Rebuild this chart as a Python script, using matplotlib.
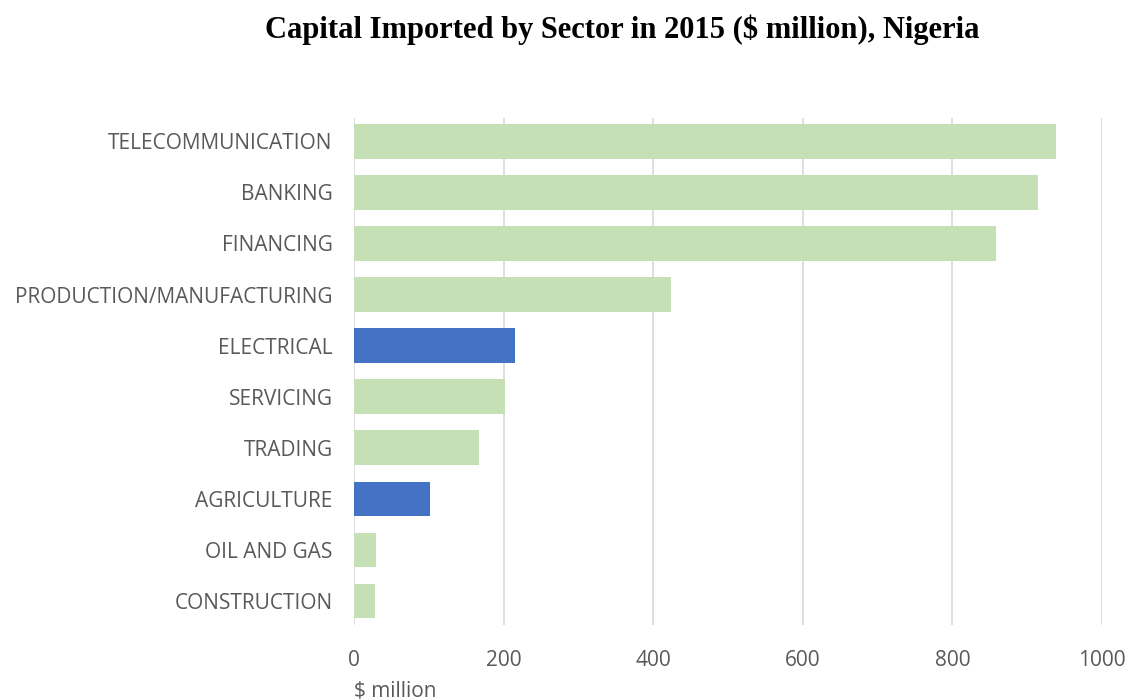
import matplotlib.pyplot as plt

# Capital imported by sector, 2015 ($ million)
sectors = ["TELECOMMUNICATION", "BANKING", "FINANCING", "PRODUCTION/MANUFACTURING",
           "ELECTRICAL", "SERVICING", "TRADING", "AGRICULTURE", "OIL AND GAS",
           "CONSTRUCTION"]
values = [938, 914, 858, 424, 215, 201, 167, 101, 29, 28]
highlighted = ["ELECTRICAL", "AGRICULTURE"]

GREEN = "#c5e0b4"
BLUE = "#4472c4"
GRAY = "#595959"


def main():
    fig = plt.figure(figsize=(11.28, 7), dpi=100)
    ax = fig.add_axes([0.314, 0.107, 0.663, 0.724])

    colors = [BLUE if s in highlighted else GREEN for s in sectors]
    ypos = list(range(len(sectors)))[::-1]
    ax.barh(ypos, values, height=0.68, color=colors, zorder=3)

    ax.set_xlim(0, 1000)
    ax.set_ylim(-0.47, 9.45)
    ax.set_xticks(range(0, 1001, 200))
    ax.set_yticks(ypos)
    ax.set_yticklabels(sectors)

    ax.grid(axis="x", color="#d9d9d9", linewidth=1.2, zorder=0)
    for side in ax.spines.values():
        side.set_visible(False)
    ax.tick_params(length=0, labelsize=15, labelcolor=GRAY)
    ax.tick_params(axis="x", pad=18)
    ax.tick_params(axis="y", pad=15.5)
    for lab in ax.get_xticklabels() + ax.get_yticklabels():
        lab.set_fontfamily("Open Sans")

    ax.set_xlabel("$ million", fontsize=15, color=GRAY, family="Open Sans",
                  loc="left", labelpad=7)

    fig.text(0.552, 0.958, "Capital Imported by Sector in 2015 ($ million), Nigeria",
             ha="center", va="center", fontsize=22, fontweight="bold",
             family="Liberation Serif")

    fig.savefig("out.png", dpi=100)


if __name__ == "__main__":
    main()
